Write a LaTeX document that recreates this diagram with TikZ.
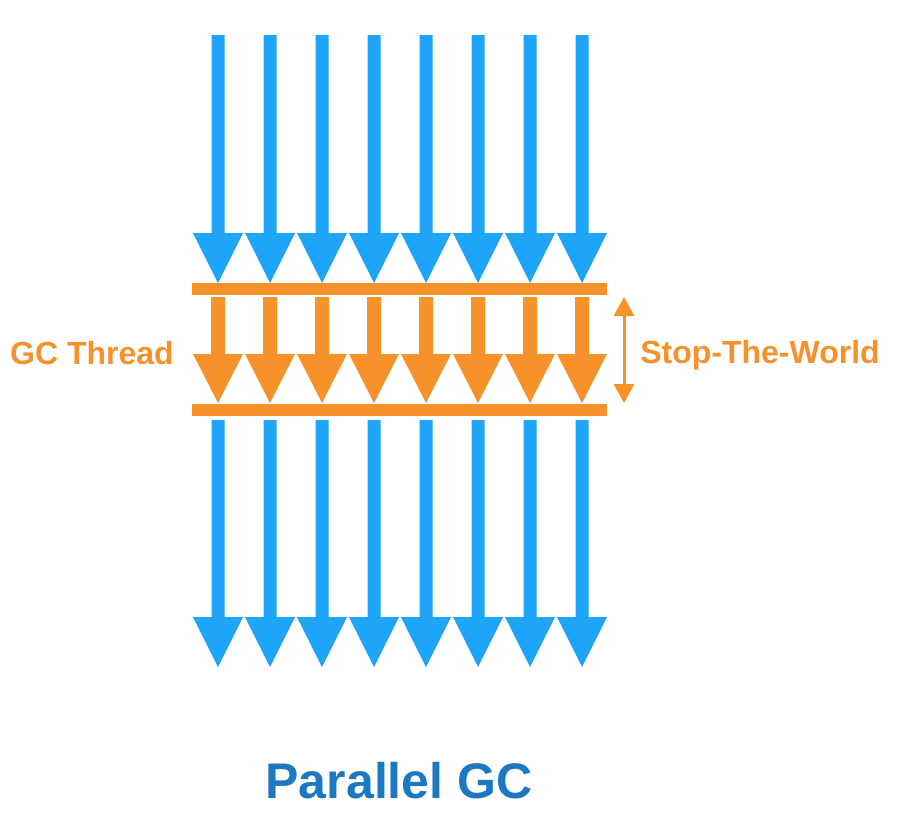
\documentclass[tikz,border=0pt]{standalone}
\usepackage{fontspec}
\setmainfont{Liberation Sans}
\usetikzlibrary{arrows.meta}
\definecolor{threadblue}{HTML}{1FA5F8}
\definecolor{gcorange}{HTML}{F7922A}
\definecolor{titleblue}{HTML}{1C78C0}
\tikzset{
  bluearrow/.style={fill=threadblue, draw=none},
  orangearrow/.style={fill=gcorange, draw=none},
  barstyle/.style={fill=gcorange, draw=none},
  labeltext/.style={text=gcorange, font=\bfseries\fontsize{32}{38}\selectfont, inner sep=0pt, anchor=base},
  titletext/.style={text=titleblue, font=\bfseries\fontsize{50}{60}\selectfont, inner sep=0pt, anchor=base},
  stwarrow/.style={draw=gcorange, line width=3pt, {Triangle[length=19pt,width=20pt]}-{Triangle[length=19pt,width=20pt]}}
}
\begin{document}
\begin{tikzpicture}[x=1pt,y=-1pt]
\useasboundingbox (0,0) rectangle (904,836);
\fill[white] (0,0) rectangle (904,836);
% arrows
\foreach \c in {218,270,322,374,426,478,530,582}{
  % top blue
  \fill[bluearrow] (\c-6.5,35) -- (\c+6.5,35) -- (\c+6.5,233) -- (\c+25,233) -- (\c,283) -- (\c-25,233) -- (\c-6.5,233) -- cycle;
  % orange GC thread
  \fill[orangearrow] (\c-7,297) -- (\c+7,297) -- (\c+7,354) -- (\c+25,354) -- (\c,403) -- (\c-25,354) -- (\c-7,354) -- cycle;
  % bottom blue
  \fill[bluearrow] (\c-6.5,420) -- (\c+6.5,420) -- (\c+6.5,617) -- (\c+25,617) -- (\c,667) -- (\c-25,617) -- (\c-6.5,617) -- cycle;
}
% bars
\fill[barstyle] (192,283) rectangle (607,295);
\fill[barstyle] (192,404) rectangle (607,416);
% stop-the-world double arrow
\coordinate (stwtop) at (624,297);
\coordinate (stwbot) at (624,403);
\draw[stwarrow] (stwtop) -- (stwbot);
% labels
\node[labeltext] (gcthread) at (92,364) {GC Thread};
\node[labeltext] (stw) at (760,363) {Stop-The-World};
\node[titletext] (title) at (399,798) {Parallel GC};
\end{tikzpicture}
\end{document}
